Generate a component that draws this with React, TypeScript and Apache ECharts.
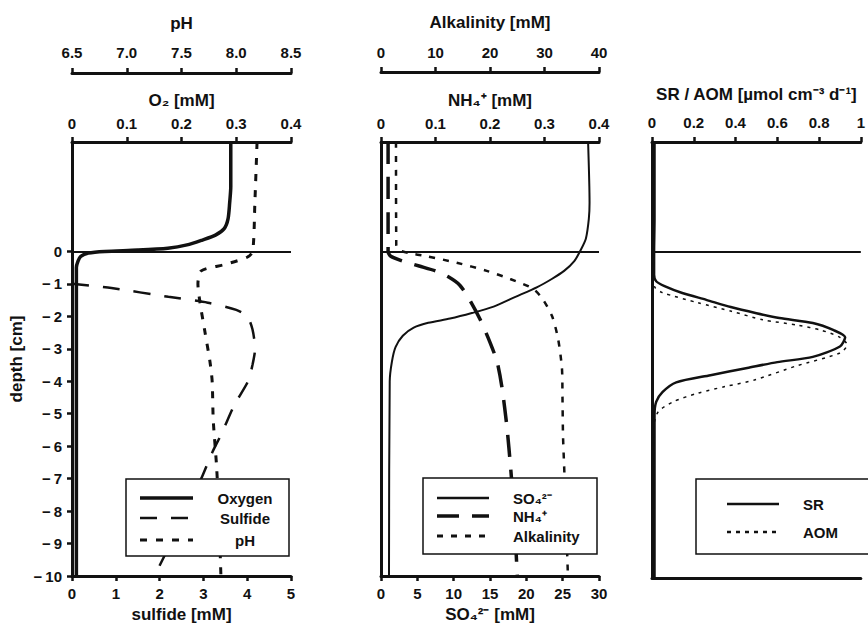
import React, { useEffect, useRef } from "react";
import * as echarts from "echarts";

const FONT = "'Liberation Sans', Arial, Helvetica, sans-serif";
const INK = "#111";

// ---- data: [value, depth (cm)] ----
const oxygen: [number, number][] = [
  [0.29, 3.37], [0.29, 2.0], [0.288, 1.5], [0.285, 1.0], [0.278, 0.7], [0.262, 0.5],
  [0.238, 0.35], [0.21, 0.2], [0.175, 0.1], [0.12, 0.04], [0.06, 0.0], [0.03, -0.05],
  [0.016, -0.15], [0.011, -0.3], [0.008, -0.5], [0.008, -10],
];
const sulfide: [number, number][] = [
  [0.0, -1.0], [0.9, -1.13], [2.2, -1.4], [3.1, -1.58], [3.75, -1.8], [4.0, -2.0],
  [4.12, -2.4], [4.18, -3.0], [4.12, -3.5], [4.02, -4.0], [3.7, -4.75], [3.42, -5.6],
  [3.2, -6.2], [2.95, -7.0], [2.6, -8.0], [2.25, -9.0], [1.88, -10.0],
];
const pH: [number, number][] = [
  [8.19, 3.37], [8.17, 1.5], [8.15, 0.0], [8.1, -0.18], [7.9, -0.4], [7.68, -0.6],
  [7.65, -1.0], [7.67, -1.6], [7.71, -2.4], [7.76, -3.4], [7.78, -4.0], [7.79, -5.2],
  [7.82, -6.6], [7.84, -8.0], [7.86, -10.0],
];
const sulfate: [number, number][] = [
  [28.5, 3.37], [28.7, 1.5], [28.6, 1.0], [28.2, 0.4], [27.5, 0.05], [26.6, -0.3],
  [25.2, -0.6], [23.5, -0.85], [21.5, -1.1], [18.5, -1.4], [15.5, -1.7], [12.5, -1.9],
  [9.5, -2.07], [6.5, -2.2], [4.5, -2.35], [3.0, -2.6], [2.0, -2.95], [1.5, -3.4],
  [1.2, -4.0], [1.1, -10.0],
];
const ammonium: [number, number][] = [
  [0.013, 3.37], [0.013, 0.0], [0.018, -0.15], [0.04, -0.3], [0.07, -0.45], [0.1, -0.6],
  [0.125, -0.8], [0.145, -1.05], [0.163, -1.5], [0.182, -2.1], [0.2, -2.8], [0.213, -3.4],
  [0.222, -4.2], [0.231, -5.4], [0.238, -6.7], [0.244, -8.0], [0.25, -10.0],
];
const alkalinity: [number, number][] = [
  [2.75, 3.37], [2.8, 0.2], [3.2, 0.05], [5.0, -0.05], [8.4, -0.15], [13.9, -0.35],
  [19.4, -0.6], [23.7, -0.85], [27.9, -1.15], [29.7, -1.48], [31.4, -2.0], [32.5, -2.7],
  [33.2, -3.6], [33.3, -4.5], [33.4, -5.7], [33.6, -6.6], [34.0, -8.5], [34.3, -10.0],
];
const sr: [number, number][] = [
  [0.012, 3.37], [0.012, 1.0], [0.01, 0.0], [0.01, -0.7], [0.02, -0.9], [0.06, -1.05],
  [0.145, -1.26], [0.26, -1.47], [0.377, -1.69], [0.5, -1.88], [0.61, -2.03], [0.77, -2.18],
  [0.87, -2.4], [0.925, -2.62], [0.9, -2.9], [0.77, -3.22], [0.6, -3.38], [0.456, -3.56],
  [0.28, -3.78], [0.116, -4.0], [0.05, -4.3], [0.02, -4.6], [0.012, -5.0], [0.012, -10.0],
];
const aom: [number, number][] = [
  [0.008, 3.37], [0.008, -0.9], [0.015, -1.1], [0.05, -1.25], [0.22, -1.56], [0.38, -1.82],
  [0.53, -2.08], [0.7, -2.25], [0.81, -2.4], [0.9, -2.62], [0.935, -2.85], [0.9, -3.1],
  [0.69, -3.5], [0.49, -3.93], [0.35, -4.13], [0.22, -4.33], [0.1, -4.6], [0.03, -4.9],
  [0.01, -5.3], [0.008, -10.0],
];

const depthTicks = [0, -1, -2, -3, -4, -5, -6, -7, -8, -9, -10];
const DEPTH_MIN = -10;
const DEPTH_MAX = 3.37;

const labelStyle = { fontFamily: FONT, fontWeight: "bold" as const, fontSize: 15, color: INK };
const nameStyle = { fontFamily: FONT, fontWeight: "bold" as const, fontSize: 17, color: INK };

function xAx(
  gridIndex: number, position: "top" | "bottom", min: number, max: number, interval: number,
  name: string, nameGap: number, margin: number, offset = 0, fmt?: (v: number) => string, showLabels = true,
) {
  return {
    type: "value", gridIndex, position, min, max, interval, offset,
    name, nameLocation: "middle", nameGap, nameTextStyle: nameStyle,
    axisLine: { show: true, onZero: false, lineStyle: { color: INK, width: 3 } },
    axisTick: { show: showLabels, length: 5, lineStyle: { color: INK, width: 2.5 } },
    axisLabel: { show: showLabels, margin, ...labelStyle, formatter: fmt },
    splitLine: { show: false },
  };
}

function yAx(gridIndex: number, withLabels: boolean) {
  return {
    type: "value", gridIndex, min: DEPTH_MIN, max: DEPTH_MAX,
    name: withLabels ? "depth [cm]" : "", nameLocation: "middle", nameGap: 47, nameTextStyle: nameStyle,
    axisLine: { show: true, onZero: false, lineStyle: { color: INK, width: 3 } },
    axisTick: { show: withLabels, length: 5, customValues: depthTicks, lineStyle: { color: INK, width: 2.5 } },
    axisLabel: {
      show: withLabels, margin: 10, customValues: depthTicks, ...labelStyle,
      formatter: (v: number) => (v < 0 ? "\u2212\u2009" + Math.abs(v) : String(v)),
    },
    splitLine: { show: false },
  };
}

const zeroLine = {
  silent: true, symbol: ["none", "none"], label: { show: false },
  lineStyle: { color: INK, type: "solid", width: 2 }, data: [{ yAxis: 0 }],
};

function line(name: string, data: [number, number][], xi: number, yi: number, width: number, type: any, withZero = false) {
  return {
    type: "line", name, data, xAxisIndex: xi, yAxisIndex: yi, showSymbol: false, symbol: "none",
    smooth: 0.25, lineStyle: { color: INK, width, type, cap: "butt" }, z: 3,
    ...(withZero ? { markLine: zeroLine } : {}),
  };
}

type Item = { y: number; dash: number[] | null; w: number; text: string };
function legendBox(x: number, y: number, w: number, h: number, lx1: number, lx2: number, tx: number, align: string, items: Item[]) {
  const els: any[] = [
    { type: "rect", z: 100, shape: { x, y, width: w, height: h }, style: { fill: "#fff", stroke: INK, lineWidth: 1.5 } },
  ];
  for (const it of items) {
    els.push({
      type: "line", z: 101, shape: { x1: lx1, y1: it.y, x2: lx2, y2: it.y },
      style: { stroke: INK, lineWidth: it.w, lineDash: it.dash || undefined },
    });
    els.push({
      type: "text", z: 101, x: tx, y: it.y,
      style: { text: it.text, fill: INK, font: `bold 15px ${FONT}`, textAlign: align, textVerticalAlign: "middle" },
    });
  }
  return els;
}

export default function App() {
  const ref = useRef<HTMLDivElement>(null);
  useEffect(() => {
    if (!ref.current) return;
    const chart = echarts.init(ref.current, undefined, { renderer: "svg" });
    const option: any = {
      animation: false,
      backgroundColor: "#fff",
      grid: [
        { left: 72, top: 142, width: 219, height: 436 },
        { left: 381, top: 142, width: 218, height: 436 },
        { left: 652, top: 142, width: 215, height: 436 },
      ],
      xAxis: [
        xAx(0, "bottom", 0, 5, 1, "sulfide [mM]", 30, 10),
        xAx(0, "top", 0, 0.4, 0.1, "O\u2082 [mM]", 33, 11),
        xAx(0, "top", 6.5, 8.5, 0.5, "pH", 41, 13, 69, (v: number) => v.toFixed(1)),
        xAx(1, "bottom", 0, 30, 5, "SO\u2084\u00B2\u207B [mM]", 30, 10),
        xAx(1, "top", 0, 0.4, 0.1, "NH\u2084\u207A [mM]", 33, 11),
        xAx(1, "top", 0, 40, 10, "Alkalinity [mM]", 41, 12, 70),
        xAx(2, "top", 0, 1, 0.2, "SR / AOM [\u00B5mol cm\u207B\u00B3 d\u207B\u00B9]", 39, 12),
        xAx(2, "bottom", 0, 1, 0.2, "", 0, 10, 0, undefined, false),
      ],
      yAxis: [yAx(0, true), yAx(1, false), yAx(2, false)],
      series: [
        line("Oxygen", oxygen, 1, 0, 3.5, "solid", true),
        line("Sulfide", sulfide, 0, 0, 2.5, [17, 14]),
        line("pH", pH, 2, 0, 3, [7, 9]),
        line("SO4", sulfate, 3, 1, 2, "solid", true),
        line("NH4", ammonium, 4, 1, 3.5, [22, 13]),
        line("Alkalinity", alkalinity, 5, 1, 2.5, [6, 8]),
        line("SR", sr, 6, 2, 2.5, "solid", true),
        line("AOM", aom, 6, 2, 1.5, [3, 5]),
      ],
      graphic: [
        ...legendBox(126, 479, 163, 77, 140, 193, 245, "center", [
          { y: 498, dash: null, w: 3.5, text: "Oxygen" },
          { y: 518, dash: [17, 14], w: 2.5, text: "Sulfide" },
          { y: 540, dash: [7, 9], w: 3, text: "pH" },
        ]),
        ...legendBox(423, 478, 174, 76, 437, 489, 513, "left", [
          { y: 498, dash: null, w: 2.5, text: "SO\u2084\u00B2\u207B" },
          { y: 516, dash: [22, 13], w: 3.5, text: "NH\u2084\u207A" },
          { y: 536, dash: [6, 8], w: 3, text: "Alkalinity" },
        ]),
        ...legendBox(696, 479, 190, 75, 727, 779, 803, "left", [
          { y: 504, dash: null, w: 2.5, text: "SR" },
          { y: 532, dash: [4, 5], w: 2.5, text: "AOM" },
        ]),
      ],
    };
    chart.setOption(option);
    return () => chart.dispose();
  }, []);
  return <div ref={ref} style={{ position: "absolute", left: 0, top: 0, width: 868, height: 628 }} />;
}
